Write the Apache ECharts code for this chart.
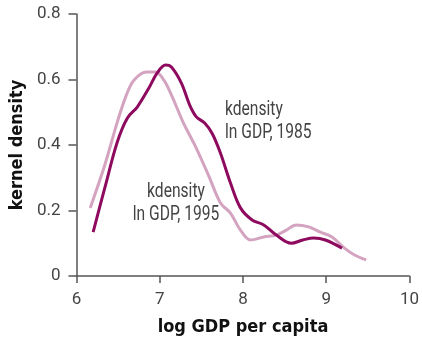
<!DOCTYPE html>
<html>
<head>
<meta charset="utf-8">
<script src="https://cdn.jsdelivr.net/npm/echarts@6/dist/echarts.min.js"></script>
<style>html,body{margin:0;padding:0;background:#fff}#c{width:422px;height:344px}</style>
</head>
<body>
<div id="c"></div>
<script>
// log GDP per capita (x) and kernel density (y)
var x1985 = [6.20, 6.34, 6.49, 6.61, 6.73, 6.87, 6.97, 7.07, 7.14, 7.26, 7.36, 7.44, 7.54, 7.63, 7.73, 7.85, 7.97, 8.11, 8.25, 8.40, 8.58, 8.72, 8.85, 8.99, 9.19];
var y1985 = [0.134, 0.269, 0.409, 0.482, 0.516, 0.574, 0.620, 0.644, 0.638, 0.589, 0.522, 0.486, 0.467, 0.435, 0.375, 0.284, 0.208, 0.171, 0.156, 0.125, 0.100, 0.110, 0.116, 0.110, 0.085];
var x1995 = [6.165, 6.34, 6.49, 6.60, 6.69, 6.84, 6.95, 7.05, 7.14, 7.28, 7.44, 7.59, 7.73, 7.85, 7.97, 8.09, 8.25, 8.40, 8.52, 8.64, 8.79, 8.93, 9.07, 9.22, 9.34, 9.48];
var y1995 = [0.208, 0.339, 0.470, 0.553, 0.598, 0.623, 0.623, 0.598, 0.553, 0.470, 0.390, 0.305, 0.223, 0.192, 0.140, 0.110, 0.119, 0.125, 0.140, 0.156, 0.150, 0.134, 0.119, 0.085, 0.064, 0.049];
var xTicks = [6, 7, 8, 9, 10];
var yTicks = [0, 0.2, 0.4, 0.6, 0.8];
var label1985 = ['kdensity', 'ln GDP, 1985'];
var label1995 = ['kdensity', 'ln GDP, 1995'];

function pairs(xs, ys) { return xs.map(function (v, i) { return [v, ys[i]]; }); }

var FONT = 'Roboto, sans-serif';
var BFONT = '"DejaVu Sans Condensed", "DejaVu Sans", sans-serif';
function note(text, x, y, align) {
  return { type: 'text', x: x, y: y, scaleX: 0.78,
    style: { text: text, font: '20px ' + FONT, fill: '#444', align: align, verticalAlign: 'middle' } };
}
var chart = echarts.init(document.getElementById('c'));
chart.setOption({
  animation: false,
  grid: { left: 76, right: 7, top: 14, bottom: 68 },
  xAxis: {
    type: 'value', min: xTicks[0], max: xTicks[xTicks.length - 1], interval: 1,
    name: 'log GDP per capita', nameLocation: 'middle', nameGap: 42,
    nameTextStyle: { fontFamily: BFONT, fontWeight: 'bold', fontSize: 18, color: '#111' },
    axisLine: { lineStyle: { color: '#555', width: 1.5 } },
    axisTick: { length: 7, lineStyle: { color: '#555', width: 1.5 } },
    axisLabel: { margin: 15, fontFamily: FONT, fontSize: 17, color: '#444' },
    splitLine: { show: false }
  },
  yAxis: {
    type: 'value', min: yTicks[0], max: yTicks[yTicks.length - 1], interval: 0.2,
    name: 'kernel density', nameLocation: 'middle', nameGap: 49, nameRotate: 90,
    nameTextStyle: { fontFamily: BFONT, fontWeight: 'bold', fontSize: 18, color: '#111' },
    axisLine: { show: true, lineStyle: { color: '#555', width: 1.5 } },
    axisTick: { show: true, length: 8, lineStyle: { color: '#555', width: 1.5 } },
    axisLabel: { margin: 16, fontFamily: FONT, fontSize: 17, color: '#444' },
    splitLine: { show: false }
  },
  series: [
    { type: 'line', data: pairs(x1995, y1995), smooth: 0.35, showSymbol: false,
      lineStyle: { color: '#D3A3C0', width: 3 } },
    { type: 'line', data: pairs(x1985, y1985), smooth: 0.35, showSymbol: false,
      lineStyle: { color: '#8E0A5E', width: 3 } }
  ],
  graphic: [
    note(label1985[0], 225, 110, 'left'),
    note(label1985[1], 225, 133, 'left'),
    note(label1995[0], 176, 192, 'center'),
    note(label1995[1], 176, 215, 'center')
  ]
});
</script>
</body>
</html>
